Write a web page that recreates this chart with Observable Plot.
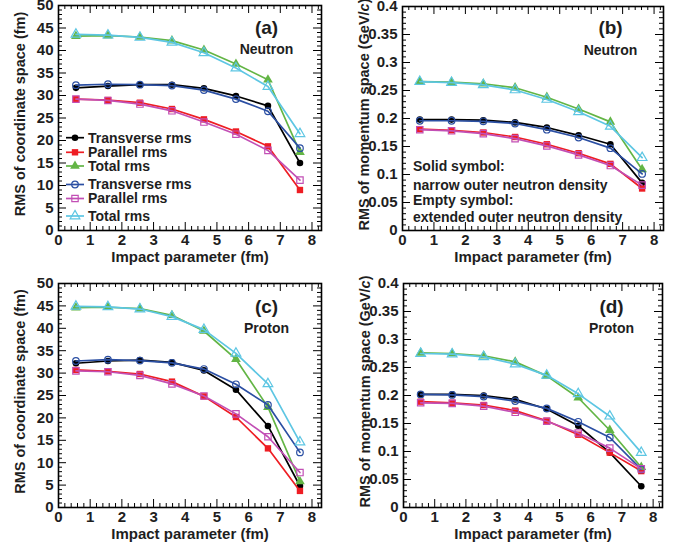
<!DOCTYPE html>
<html>
<head>
<meta charset="utf-8">
<script src="https://cdn.jsdelivr.net/npm/d3@7"></script>
<script src="https://cdn.jsdelivr.net/npm/@observablehq/plot@0.6"></script>
<style>
  body { margin: 0; background: #fff; }
  #fig { position: relative; width: 683px; height: 550px; font-family: "Liberation Sans", Arial, sans-serif; }
  #fig svg { position: absolute; overflow: visible; }
</style>
</head>
<body>
<div id="fig"></div>
<script>
// Impact parameter (fm) of every point
const impact = [0.55, 1.56, 2.57, 3.58, 4.59, 5.6, 6.61, 7.62];

// Series: narrow outer neutron density (solid) then extended (empty)
const seriesNames   = ["Transverse rms", "Parallel rms", "Total rms", "Transverse rms", "Parallel rms", "Total rms"];
const seriesColors  = ["#000000", "#ee1d23", "#63b545", "#2b4fa3", "#c24fb5", "#5dc6e3"];
const seriesSymbols = ["circle", "square", "triangle", "circle", "square", "triangle"];
const seriesFilled  = [true, true, true, false, false, false];

// (a) Neutron, RMS of coordinate space (fm)
const aTrans    = [31.7, 32.1, 32.4, 32.4, 31.6, 29.9, 27.7, 15.0];
const aPar      = [29.2, 29.0, 28.4, 27.0, 24.7, 22.0, 18.7, 9.0];
const aTot      = [43.2, 43.3, 43.0, 42.2, 40.1, 37.0, 33.5, 17.4];
const aTransExt = [32.3, 32.5, 32.4, 32.2, 31.2, 29.2, 26.5, 18.3];
const aParExt   = [29.2, 28.9, 28.1, 26.6, 24.1, 21.4, 17.8, 11.2];
const aTotExt   = [43.6, 43.4, 42.9, 41.8, 39.5, 36.1, 32.0, 21.5];

// (b) Neutron, RMS of momentum space (GeV/c)
const bTrans    = [0.198, 0.198, 0.197, 0.193, 0.184, 0.170, 0.154, 0.085];
const bPar      = [0.181, 0.179, 0.175, 0.167, 0.154, 0.138, 0.119, 0.075];
const bTot      = [0.266, 0.265, 0.262, 0.255, 0.238, 0.217, 0.194, 0.109];
const bTransExt = [0.196, 0.196, 0.195, 0.191, 0.180, 0.166, 0.147, 0.101];
const bParExt   = [0.180, 0.178, 0.173, 0.164, 0.151, 0.135, 0.116, 0.081];
const bTotExt   = [0.266, 0.264, 0.260, 0.251, 0.234, 0.212, 0.186, 0.130];

// (c) Proton, RMS of coordinate space (fm)
const cTrans    = [32.2, 32.7, 32.9, 32.4, 30.6, 26.3, 18.2, 4.8];
const cPar      = [30.7, 30.4, 29.8, 28.1, 24.8, 20.2, 13.2, 3.7];
const cTot      = [44.6, 44.7, 44.4, 42.9, 39.4, 33.1, 22.4, 5.8];
const cTransExt = [32.7, 33.0, 32.8, 32.3, 30.9, 27.5, 22.9, 12.3];
const cParExt   = [30.5, 30.3, 29.5, 27.6, 24.9, 20.9, 15.8, 7.8];
const cTotExt   = [44.9, 44.8, 44.3, 42.6, 39.7, 34.4, 27.6, 14.6];

// (d) Proton, RMS of momentum space (GeV/c)
const dTrans    = [0.202, 0.202, 0.200, 0.193, 0.176, 0.146, 0.098, 0.038];
const dPar      = [0.189, 0.187, 0.183, 0.173, 0.155, 0.130, 0.098, 0.065];
const dTot      = [0.276, 0.275, 0.271, 0.260, 0.235, 0.196, 0.138, 0.072];
const dTransExt = [0.202, 0.201, 0.198, 0.190, 0.177, 0.153, 0.125, 0.068];
const dParExt   = [0.187, 0.186, 0.181, 0.170, 0.154, 0.133, 0.106, 0.069];
const dTotExt   = [0.275, 0.274, 0.269, 0.256, 0.236, 0.203, 0.163, 0.098];

const xTickValues = [0, 1, 2, 3, 4, 5, 6, 7, 8];
const coordTicks  = [0, 5, 10, 15, 20, 25, 30, 35, 40, 45, 50];
const momTicks    = [0, 0.05, 0.1, 0.15, 0.2, 0.25, 0.3, 0.35, 0.4];

const coordLabel = "RMS of coordinate space (fm)";
const momLabel   = "RMS of momentum space (GeV/c)";
const xLabel     = "Impact parameter (fm)";

const FONT = "'Liberation Sans', Arial, Helvetica, sans-serif";
const TEXT = "#1e1e1e";
const fig = document.getElementById("fig");

function panel(cfg) {
  const {left, top, width, height, mL, mR, mT, mB, yMax, yTicks, yMinorStep, series, tag, particle, yLabel} = cfg;
  const fw = width - mL - mR, fh = height - mT - mB;
  const xMax = 8.3;
  const MAJ = 8, MIN = 4;

  const xMinor = d3.range(1, 42).map(i => i / 5).filter(v => v < xMax && Math.abs(v - Math.round(v)) > 1e-6);
  const nMinorY = Math.round(yMax / yMinorStep);
  const yMinor = d3.range(1, nMinorY).map(i => i * yMinorStep).filter(v => Math.abs(v / (yMinorStep * 5) - Math.round(v / (yMinorStep * 5))) > 1e-6);

  const marks = [];
  // inward ticks on all four sides
  marks.push(Plot.tickX(xTickValues, {x: d => d, insetTop: fh - MAJ, stroke: "#000", strokeWidth: 1}));
  marks.push(Plot.tickX(xTickValues, {x: d => d, insetBottom: fh - MAJ, stroke: "#000", strokeWidth: 1}));
  marks.push(Plot.tickX(xMinor, {x: d => d, insetTop: fh - MIN, stroke: "#000", strokeWidth: 1}));
  marks.push(Plot.tickX(xMinor, {x: d => d, insetBottom: fh - MIN, stroke: "#000", strokeWidth: 1}));
  marks.push(Plot.tickY(yTicks, {y: d => d, insetRight: fw - MAJ, stroke: "#000", strokeWidth: 1}));
  marks.push(Plot.tickY(yTicks, {y: d => d, insetLeft: fw - MAJ, stroke: "#000", strokeWidth: 1}));
  marks.push(Plot.tickY(yMinor, {y: d => d, insetRight: fw - MIN, stroke: "#000", strokeWidth: 1}));
  marks.push(Plot.tickY(yMinor, {y: d => d, insetLeft: fw - MIN, stroke: "#000", strokeWidth: 1}));
  marks.push(Plot.frame({stroke: "#000", strokeWidth: 1.6}));

  // series lines and markers
  series.forEach((vals, s) => {
    const rows = vals.map((v, i) => ({x: impact[i], y: v}));
    marks.push(Plot.line(rows, {x: "x", y: "y", stroke: seriesColors[s], strokeWidth: 1.7}));
    marks.push(Plot.dot(rows, {
      x: "x", y: "y", symbol: seriesSymbols[s],
      r: seriesSymbols[s] === "circle" ? 3.3 : 3.6,
      fill: seriesFilled[s] ? seriesColors[s] : "none",
      stroke: seriesFilled[s] ? "none" : seriesColors[s],
      strokeWidth: 1.2
    }));
  });

  // axis titles and panel tags
  marks.push(Plot.text([xLabel], {text: d => d, frameAnchor: "bottom", dy: cfg.titleDy, textAnchor: "middle", fontSize: 15, fontWeight: "bold", fill: TEXT}));
  marks.push(Plot.text([yLabel], {text: d => d, frameAnchor: "left", rotate: -90, textAnchor: "middle", dx: -38, dy: -4, fontSize: 14.5, fontWeight: "bold", fill: TEXT}));
  marks.push(Plot.text([tag], {text: d => d, frameAnchor: "top-right", dx: -(fw - (cfg.tagX - mL)), dy: cfg.tagY - mT, textAnchor: "middle", fontSize: 19, fontWeight: "bold", fill: TEXT}));
  marks.push(Plot.text([particle], {text: d => d, frameAnchor: "top-right", dx: -(fw - (cfg.tagX - mL)), dy: cfg.partY - mT, textAnchor: "middle", fontSize: 14, fontWeight: "bold", fill: TEXT}));

  const svg = Plot.plot({
    width, height,
    marginLeft: mL, marginRight: mR, marginTop: mT, marginBottom: mB,
    x: {domain: [0, xMax], ticks: xTickValues, tickSize: 0, tickPadding: 4, label: null},
    y: {domain: [0, yMax], ticks: yTicks, tickSize: 0, tickPadding: 5, label: null,
        tickFormat: d => String(+d.toFixed(2))},
    style: {fontFamily: FONT, fontSize: "15px", fontWeight: "bold", color: TEXT, background: "transparent", overflow: "visible"},
    marks
  });
  svg.style.left = left + "px";
  svg.style.top = top + "px";
  fig.appendChild(svg);

  // italic "c" in GeV/c
  d3.select(svg).selectAll("text").filter(function () { return this.textContent === momLabel; })
    .each(function () {
      const t = d3.select(this);
      t.text(null);
      t.append("tspan").text("RMS of momentum space (GeV/");
      t.append("tspan").attr("font-style", "italic").text("c");
      t.append("tspan").text(")");
    });
  return svg;
}

const svgA = panel({left: 0, top: 0, width: 341, height: 275, mL: 58, mR: 20, mT: 5, mB: 45,
  yMax: 50, yTicks: coordTicks, yMinorStep: 1, yLabel: coordLabel, titleDy: 31,
  series: [aTrans, aPar, aTot, aTransExt, aParExt, aTotExt],
  tag: "(a)", particle: "Neutron", tagX: 266, tagY: 20, partY: 44});

const svgB = panel({left: 340, top: 0, width: 343, height: 275, mL: 62, mR: 20, mT: 6, mB: 45,
  yMax: 0.4, yTicks: momTicks, yMinorStep: 0.01, yLabel: momLabel, titleDy: 31,
  series: [bTrans, bPar, bTot, bTransExt, bParExt, bTotExt],
  tag: "(b)", particle: "Neutron", tagX: 270, tagY: 20, partY: 45});

const svgC = panel({left: 0, top: 275, width: 341, height: 275, mL: 58, mR: 20, mT: 8, mB: 43,
  yMax: 50, yTicks: coordTicks, yMinorStep: 1, yLabel: coordLabel, titleDy: 31,
  series: [cTrans, cPar, cTot, cTransExt, cParExt, cTotExt],
  tag: "(c)", particle: "Proton", tagX: 266, tagY: 24, partY: 48});

const svgD = panel({left: 340, top: 275, width: 343, height: 275, mL: 63, mR: 21, mT: 8, mB: 43,
  yMax: 0.4, yTicks: momTicks, yMinorStep: 0.01, yLabel: momLabel, titleDy: 31,
  series: [dTrans, dPar, dTot, dTransExt, dParExt, dTotExt],
  tag: "(d)", particle: "Proton", tagX: 271, tagY: 24, partY: 48});

// legend in panel (a)
const legendY = [137.7, 152.3, 166, 184.5, 198.5, 216];
const gLeg = d3.select(svgA).append("g").attr("font-family", FONT).attr("font-weight", "bold")
  .attr("font-size", 14).attr("text-anchor", "start");
seriesNames.forEach((name, s) => {
  const y = legendY[s];
  gLeg.append("line").attr("x1", 66).attr("x2", 84).attr("y1", y).attr("y2", y)
    .attr("stroke", seriesColors[s]).attr("stroke-width", 1.7);
  const r = seriesSymbols[s] === "circle" ? 3.3 : 3.6;
  const sym = {circle: d3.symbolCircle, square: d3.symbolSquare, triangle: d3.symbolTriangle}[seriesSymbols[s]];
  gLeg.append("path").attr("transform", `translate(75,${y})`)
    .attr("d", d3.symbol(sym, Math.PI * r * r)())
    .attr("fill", seriesFilled[s] ? seriesColors[s] : "none")
    .attr("stroke", seriesFilled[s] ? "none" : seriesColors[s]).attr("stroke-width", 1.2);
  gLeg.append("text").attr("x", 88).attr("y", y).attr("dy", "0.35em").attr("fill", TEXT)
    .attr("text-anchor", "start").text(name);
});

// symbol note in panel (b)
const noteLines = ["Solid symbol:", "narrow outer neutron density", "Empty symbol:", "extended outer neutron density"];
const noteY = [166, 185, 200, 217];
const gNote = d3.select(svgB).append("g").attr("font-family", FONT).attr("font-weight", "bold")
  .attr("font-size", 14).attr("text-anchor", "start");
noteLines.forEach((t, i) => {
  gNote.append("text").attr("x", 73).attr("y", noteY[i]).attr("dy", "0.35em").attr("fill", TEXT)
    .attr("text-anchor", "start").text(t);
});
</script>
</body>
</html>
